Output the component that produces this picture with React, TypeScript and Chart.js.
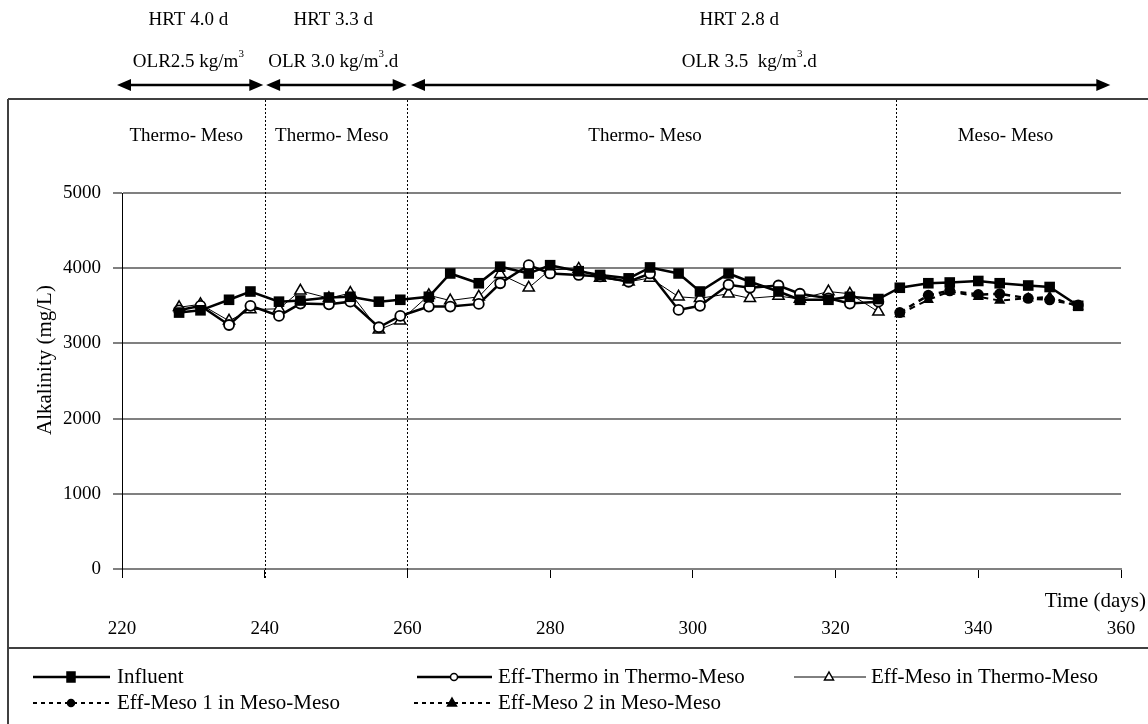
import React, { useEffect, useRef } from "react";
import { Chart, registerables } from "chart.js";
Chart.register(...registerables);

// ---- data ----
const thermoDays = [228, 231, 235, 238, 242, 245, 249, 252, 256, 259, 263, 266, 270, 273, 277, 280, 284, 287, 291, 294, 298, 301, 305, 308, 312, 315, 319, 322, 326];
const mesoDays = [329, 333, 336, 340, 343, 347, 350, 354];
const influentDays = [...thermoDays, ...mesoDays];
const influent = [3410, 3440, 3580, 3690, 3555, 3570, 3610, 3620, 3555, 3580, 3620, 3930, 3800, 4020, 3930, 4040, 3960, 3910, 3865, 4010, 3930, 3690, 3930, 3820, 3690, 3580, 3580, 3620, 3590, 3740, 3800, 3810, 3830, 3800, 3770, 3750, 3500];
const effThermo = [3440, 3500, 3245, 3500, 3365, 3530, 3520, 3555, 3215, 3365, 3490, 3490, 3525, 3800, 4040, 3930, 3910, 3890, 3820, 3930, 3445, 3500, 3780, 3740, 3770, 3660, 3600, 3530, 3555];
const effMeso = [3480, 3520, 3300, 3450, 3460, 3700, 3600, 3670, 3180, 3300, 3640, 3570, 3620, 3920, 3740, 3980, 3990, 3870, 3820, 3870, 3620, 3600, 3660, 3600, 3630, 3590, 3690, 3660, 3420];
const meso1 = [3410, 3640, 3700, 3650, 3660, 3600, 3580, 3510];
const meso2 = [3390, 3580, 3690, 3620, 3570, 3600, 3620, 3490];

const xMin = 220, xMax = 360, xStep = 20;
const yMin = 0, yMax = 5000, yStep = 1000;
const phaseBounds = [240, 260, 328.5];
const arrowSpans = [[219.3, 239.8], [240.2, 259.9], [260.5, 358.5]];
const hrtLabels = ["HRT 4.0 d", "HRT 3.3 d", "HRT 2.8 d"];
const olrLabels: [string, boolean][][] = [
  [["OLR2.5 kg/m", false], ["3", true]],
  [["OLR 3.0 kg/m", false], ["3", true], [".d", false]],
  [["OLR 3.5  kg/m", false], ["3", true], [".d", false]],
];
const headerCenters = [229.3, 249.6, 306.5];
const modeLabels = ["Thermo- Meso", "Thermo- Meso", "Thermo- Meso", "Meso- Meso"];
const modeCenters = [229.0, 249.4, 293.3, 343.8];
const seriesNames = ["Influent", "Eff-Thermo in Thermo-Meso", "Eff-Meso in Thermo-Meso", "Eff-Meso 1 in Meso-Meso", "Eff-Meso 2 in Meso-Meso"];

const FONT = "'Liberation Serif', 'Times New Roman', serif";
const FS = 19;
const FL = 21;

const pts = (days: number[], vals: number[]) => days.map((d, i) => ({ x: d, y: vals[i] }));

function drawParts(ctx: CanvasRenderingContext2D, parts: [string, boolean][], cx: number, cy: number) {
  const widths = parts.map(([t, sup]) => {
    ctx.font = `${sup ? 11 : FS}px ${FONT}`;
    return ctx.measureText(t).width;
  });
  const total = widths.reduce((a, b) => a + b, 0);
  let x = cx - total / 2;
  ctx.textAlign = "left";
  ctx.textBaseline = "middle";
  parts.forEach(([t, sup], i) => {
    ctx.font = `${sup ? 11 : FS}px ${FONT}`;
    ctx.fillText(t, x, sup ? cy - 8 : cy);
    x += widths[i];
  });
}

function head(ctx: CanvasRenderingContext2D, x: number, y: number, dir: number) {
  ctx.beginPath();
  ctx.moveTo(x, y);
  ctx.lineTo(x - dir * 14, y - 6);
  ctx.lineTo(x - dir * 14, y + 6);
  ctx.closePath();
  ctx.fill();
}

function marker(ctx: CanvasRenderingContext2D, kind: string, x: number, y: number, filled: boolean) {
  ctx.save();
  ctx.fillStyle = filled ? "#000" : "#fff";
  ctx.strokeStyle = "#000";
  ctx.lineWidth = 1.5;
  ctx.setLineDash([]);
  ctx.beginPath();
  if (kind === "rect") ctx.rect(x - 4, y - 5, 8, 10);
  else if (kind === "circle") ctx.arc(x, y, 3.5, 0, Math.PI * 2);
  else {
    ctx.moveTo(x, y - 5);
    ctx.lineTo(x + 4.5, y + 3);
    ctx.lineTo(x - 4.5, y + 3);
    ctx.closePath();
  }
  ctx.fill();
  ctx.stroke();
  ctx.restore();
}

const decor = {
  id: "decor",
  afterDraw(chart: any) {
    const ctx: CanvasRenderingContext2D = chart.ctx;
    const xs = chart.scales.x;
    const ca = chart.chartArea;
    ctx.save();
    ctx.fillStyle = "#000";
    ctx.strokeStyle = "#000";

    // outer frame
    ctx.strokeStyle = "#404040";
    ctx.lineWidth = 2;
    ctx.beginPath();
    ctx.moveTo(8, 99); ctx.lineTo(1148, 99);
    ctx.moveTo(8, 99); ctx.lineTo(8, 724);
    ctx.moveTo(8, 648); ctx.lineTo(1148, 648);
    ctx.stroke();

    // phase dotted lines
    ctx.strokeStyle = "#000";
    ctx.lineWidth = 1;
    ctx.setLineDash([2, 2]);
    phaseBounds.forEach((d) => {
      const x = Math.round(xs.getPixelForValue(d)) + 0.5;
      ctx.beginPath();
      ctx.moveTo(x, 100);
      ctx.lineTo(x, ca.bottom + 9);
      ctx.stroke();
    });
    ctx.setLineDash([]);

    // arrows
    ctx.lineWidth = 2.5;
    arrowSpans.forEach(([a, b]) => {
      const x1 = xs.getPixelForValue(a), x2 = xs.getPixelForValue(b);
      ctx.beginPath();
      ctx.moveTo(x1 + 8, 85); ctx.lineTo(x2 - 8, 85);
      ctx.stroke();
      head(ctx, x1, 85, -1);
      head(ctx, x2, 85, 1);
    });

    // header texts
    hrtLabels.forEach((t, i) => {
      ctx.font = `${FS}px ${FONT}`;
      ctx.textAlign = "center";
      ctx.textBaseline = "middle";
      ctx.fillText(t, xs.getPixelForValue(headerCenters[i]), 20);
      drawParts(ctx, olrLabels[i], xs.getPixelForValue(headerCenters[i]) + (i === 2 ? 10 : 0), 62);
    });
    ctx.font = `${FS}px ${FONT}`;
    ctx.textAlign = "center";
    ctx.textBaseline = "middle";
    modeLabels.forEach((t, i) => {
      ctx.fillText(t, xs.getPixelForValue(modeCenters[i]), 136);
    });

    // axis titles
    ctx.font = `${FL}px ${FONT}`;
    ctx.textAlign = "right";
    ctx.fillText("Time (days)", 1146, 601);
    ctx.save();
    ctx.translate(45, 360);
    ctx.rotate(-Math.PI / 2);
    ctx.textAlign = "center";
    ctx.fillText("Alkalinity (mg/L)", 0, 0);
    ctx.restore();

    // legend
    const items = [
      { x0: 33, x1: 110, mx: 71, y: 677, w: 2.5, dash: [] as number[], kind: "rect", filled: true, tx: 117 },
      { x0: 417, x1: 492, mx: 454, y: 677, w: 2.5, dash: [], kind: "circle", filled: false, tx: 498 },
      { x0: 794, x1: 866, mx: 829, y: 677, w: 1, dash: [], kind: "tri", filled: false, tx: 871 },
      { x0: 33, x1: 110, mx: 71, y: 703, w: 2, dash: [4, 4], kind: "circle", filled: true, tx: 117 },
      { x0: 414, x1: 492, mx: 452, y: 703, w: 2, dash: [4, 4], kind: "tri", filled: true, tx: 498 },
    ];
    items.forEach((it, i) => {
      ctx.strokeStyle = "#000";
      ctx.lineWidth = it.w;
      ctx.setLineDash(it.dash);
      ctx.beginPath();
      ctx.moveTo(it.x0, it.y); ctx.lineTo(it.x1, it.y);
      ctx.stroke();
      ctx.setLineDash([]);
      marker(ctx, it.kind, it.mx, it.y, it.filled);
      ctx.fillStyle = "#000";
      ctx.font = `${FL}px ${FONT}`;
      ctx.textAlign = "left";
      ctx.textBaseline = "middle";
      ctx.fillText(seriesNames[i], it.tx, it.y);
    });
    ctx.restore();
  },
};

export default function App() {
  const ref = useRef<HTMLCanvasElement | null>(null);
  useEffect(() => {
    if (!ref.current) return;
    const chart = new Chart(ref.current, {
      type: "scatter",
      data: {
        datasets: [
          {
            label: seriesNames[0],
            data: pts(influentDays, influent),
            showLine: true,
            borderColor: "#000",
            backgroundColor: "#000",
            borderWidth: 2.5,
            pointStyle: "rect",
            pointRadius: 7.5,
            pointBorderWidth: 0,
          },
          {
            label: seriesNames[1],
            data: pts(thermoDays, effThermo),
            showLine: true,
            borderColor: "#000",
            backgroundColor: "#fff",
            borderWidth: 2.5,
            pointStyle: "circle",
            pointRadius: 5,
            pointBorderWidth: 1.8,
          },
          {
            label: seriesNames[2],
            data: pts(thermoDays, effMeso),
            showLine: true,
            borderColor: "#000",
            backgroundColor: "#fff",
            borderWidth: 1,
            pointStyle: "triangle",
            pointRadius: 6.5,
            pointBorderWidth: 1.5,
          },
          {
            label: seriesNames[3],
            data: pts(mesoDays, meso1),
            showLine: true,
            borderColor: "#000",
            backgroundColor: "#000",
            borderWidth: 2.5,
            borderDash: [6, 5],
            pointStyle: "circle",
            pointRadius: 5.5,
            pointBorderWidth: 0,
          },
          {
            label: seriesNames[4],
            data: pts(mesoDays, meso2),
            showLine: true,
            borderColor: "#000",
            backgroundColor: "#000",
            borderWidth: 2,
            borderDash: [6, 5],
            pointStyle: "triangle",
            pointRadius: 6.5,
            pointBorderWidth: 0,
          },
        ],
      },
      options: {
        responsive: false,
        animation: false,
        events: [],
        layout: { padding: { left: 0, top: 193, right: 27, bottom: 75 } },
        plugins: { legend: { display: false }, tooltip: { enabled: false }, title: { display: false } },
        scales: {
          x: {
            type: "linear",
            min: xMin,
            max: xMax,
            afterFit: (s: any) => { s.height = 80; s.paddingLeft = 0; s.paddingRight = 0; },
            ticks: { stepSize: xStep, color: "#000", font: { family: FONT, size: FS }, padding: 40, maxRotation: 0, callback: (v: any) => String(v) },
            grid: { drawOnChartArea: false, drawTicks: true, tickLength: 9, color: "#000", lineWidth: 1 },
            border: { display: true, color: "#808080", width: 2 },
          },
          y: {
            min: yMin,
            max: yMax,
            afterFit: (s: any) => { s.width = 122; s.paddingTop = 0; s.paddingBottom = 0; },
            ticks: { stepSize: yStep, color: "#000", font: { family: FONT, size: FS }, padding: 12, callback: (v: any) => String(v) },
            grid: { color: "#808080", lineWidth: 2, tickLength: 9, drawTicks: true },
            border: { display: true, color: "#000", width: 1 },
          },
        },
      },
      plugins: [decor],
    });
    return () => chart.destroy();
  }, []);
  return (
    <div style={{ position: "absolute", left: 0, top: 0, width: 1148, height: 724, background: "#fff" }}>
      <canvas ref={ref} width={1148} height={724} style={{ display: "block" }} />
    </div>
  );
}
